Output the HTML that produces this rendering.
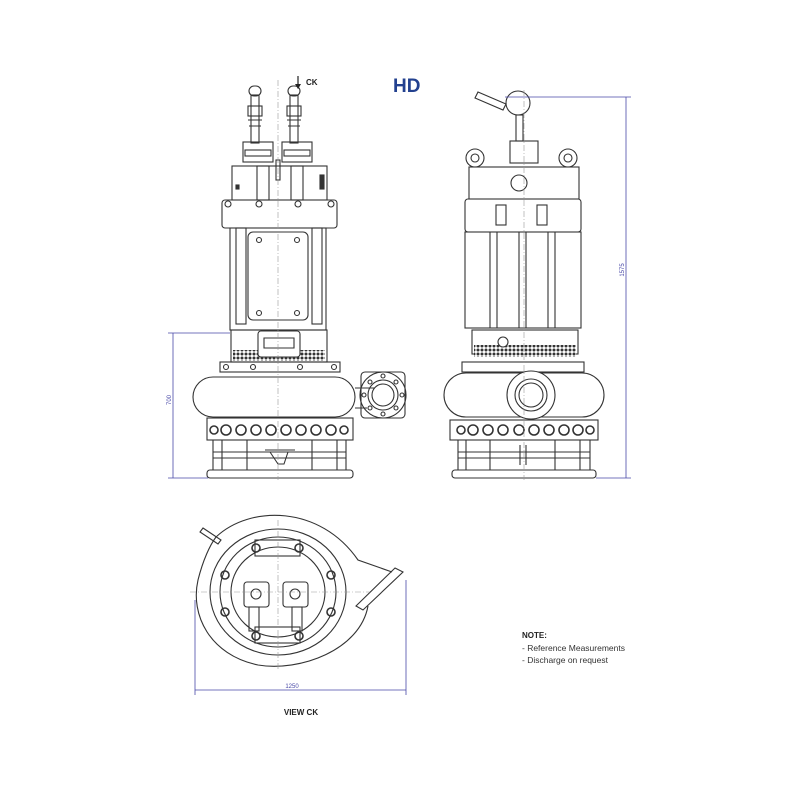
<!DOCTYPE html>
<html><head><meta charset="utf-8"><style>
html,body{margin:0;padding:0;background:#fff;}
svg{display:block;}
text{font-family:"Liberation Sans",sans-serif;}
</style></head><body>
<svg width="800" height="800" viewBox="0 0 800 800" xmlns="http://www.w3.org/2000/svg">
<defs>
<pattern id="h" width="4" height="4" patternUnits="userSpaceOnUse">
<rect width="4" height="4" fill="#fff"/>
<circle cx="2" cy="2" r="1.5" fill="#333"/>
</pattern>
</defs>
<rect width="800" height="800" fill="#fff"/>
<g fill="none" stroke="#333" stroke-width="1.1">
<!-- ========== LEFT VIEW ========== -->
<rect x="251" y="95" width="8" height="48"/>
<rect x="290" y="95" width="8" height="48"/>
<rect x="249" y="86" width="12" height="10" rx="5"/>
<rect x="288" y="86" width="12" height="10" rx="5"/>
<rect x="248" y="106" width="14" height="10"/>
<rect x="287" y="106" width="14" height="10"/>
<path d="M248 120 h14 M287 120 h14 M249 126 h12 M288 126 h12"/>
<rect x="243" y="142" width="30" height="20"/>
<rect x="282" y="142" width="30" height="20"/>
<rect x="245" y="150" width="26" height="6"/>
<rect x="284" y="150" width="26" height="6"/>
<rect x="232" y="166" width="95" height="34"/>
<rect x="257" y="166" width="12" height="34"/>
<rect x="291" y="166" width="12" height="34"/>
<rect x="276" y="160" width="4" height="20"/>
<rect x="320" y="175" width="4" height="14" fill="#333"/>
<rect x="236" y="185" width="3" height="4" fill="#333"/>
<rect x="222" y="200" width="115" height="28" rx="3"/>
<circle cx="228" cy="204" r="3"/><circle cx="259" cy="204" r="3"/><circle cx="298" cy="204" r="3"/><circle cx="331" cy="204" r="3"/>
<rect x="230" y="228" width="96" height="102"/>
<rect x="248" y="232" width="60" height="88" rx="5"/>
<rect x="236" y="228" width="10" height="96"/>
<rect x="312" y="228" width="10" height="96"/>
<circle cx="259" cy="240" r="2.5"/><circle cx="297" cy="240" r="2.5"/><circle cx="259" cy="313" r="2.5"/><circle cx="297" cy="313" r="2.5"/>
<rect x="231" y="330" width="96" height="32"/>
<rect x="233" y="350" width="92" height="11" fill="url(#h)" stroke="none"/>
<rect x="258" y="331" width="42" height="26" rx="3" fill="#fff"/>
<path d="M264 338 h30 v10 h-30z"/>
<rect x="220" y="362" width="120" height="10"/>
<circle cx="226" cy="367" r="2.5"/><circle cx="253" cy="367" r="2.5"/><circle cx="300" cy="367" r="2.5"/><circle cx="334" cy="367" r="2.5"/>
<rect x="193" y="377" width="162" height="40" rx="20"/>
<path d="M355 388 h20 M355 408 h12"/>
<circle cx="383" cy="395" r="23"/>
<circle cx="383" cy="395" r="15"/>
<circle cx="383" cy="395" r="11"/>
<rect x="361" y="372" width="44" height="46" rx="4"/>
<g fill="#fff"><circle cx="383" cy="376" r="2"/><circle cx="383" cy="414" r="2"/><circle cx="364" cy="395" r="2"/><circle cx="402" cy="395" r="2"/><circle cx="370" cy="382" r="2"/><circle cx="396" cy="382" r="2"/><circle cx="370" cy="408" r="2"/><circle cx="396" cy="408" r="2"/></g>
<rect x="207" y="418" width="146" height="22"/>
<g stroke-width="1.6">
<circle cx="226" cy="430" r="5"/><circle cx="241" cy="430" r="5"/><circle cx="256" cy="430" r="5"/><circle cx="271" cy="430" r="5"/><circle cx="286" cy="430" r="5"/><circle cx="301" cy="430" r="5"/><circle cx="316" cy="430" r="5"/><circle cx="331" cy="430" r="5"/><circle cx="344" cy="430" r="4"/><circle cx="214" cy="430" r="4"/>
</g>
<path d="M213 440 v30 M222 440 v30 M247 440 v30 M312 440 v30 M337 440 v30 M346 440 v30 M213 452 h133 M213 458 h133"/>
<path d="M265 450 h30 M270 452 l8 12 h6 l4 -12"/>
<rect x="207" y="470" width="146" height="8" rx="3"/>
<!-- ========== RIGHT VIEW ========== -->
<path d="M478 92 l28 12 l-3 6 l-28 -12z"/>
<circle cx="518" cy="103" r="12"/>
<rect x="516" y="115" width="7" height="26"/>
<rect x="510" y="141" width="28" height="22"/>
<circle cx="475" cy="158" r="9"/><circle cx="475" cy="158" r="4"/>
<circle cx="568" cy="158" r="9"/><circle cx="568" cy="158" r="4"/>
<rect x="469" y="167" width="110" height="32"/>
<circle cx="519" cy="183" r="8"/>
<rect x="465" y="199" width="116" height="33" rx="3"/>
<rect x="496" y="205" width="10" height="20"/><rect x="537" y="205" width="10" height="20"/>
<rect x="465" y="232" width="116" height="96"/>
<path d="M490 232 v96 M497 232 v96 M519 232 v96 M526 232 v96 M548 232 v96 M555 232 v96"/>
<rect x="472" y="330" width="106" height="24"/>
<rect x="474" y="345" width="102" height="12" fill="url(#h)" stroke="none"/>
<circle cx="503" cy="342" r="5" fill="#fff"/>
<rect x="462" y="362" width="122" height="10"/>
<rect x="444" y="373" width="160" height="44" rx="22"/>
<circle cx="531" cy="395" r="24" fill="#fff"/>
<circle cx="531" cy="395" r="16"/>
<circle cx="531" cy="395" r="12"/>
<rect x="450" y="420" width="148" height="20"/>
<g stroke-width="1.6">
<circle cx="461" cy="430" r="4"/><circle cx="473" cy="430" r="5"/><circle cx="488" cy="430" r="5"/><circle cx="503" cy="430" r="5"/><circle cx="519" cy="430" r="5"/><circle cx="534" cy="430" r="5"/><circle cx="549" cy="430" r="5"/><circle cx="564" cy="430" r="5"/><circle cx="578" cy="430" r="5"/><circle cx="590" cy="430" r="4"/>
</g>
<path d="M458 440 v30 M466 440 v30 M490 440 v30 M555 440 v30 M580 440 v30 M590 440 v30 M458 452 h132 M458 458 h132 M520 445 v20 M526 445 v20"/>
<rect x="452" y="470" width="144" height="8" rx="3"/>
<!-- ========== BOTTOM VIEW ========== -->
<path d="M216 537 C 250 505 320 505 358 560 L 392 572 M 368 606 C 360 650 300 672 258 665 C 210 655 190 615 198 580 C 203 560 210 545 216 537"/>
<path d="M395 568 l8 4 l-40 38 l-7 -4z"/>
<path d="M203 528 l18 12 l-3 4 l-18 -12z"/>
<ellipse cx="278" cy="592" rx="68" ry="63"/>
<ellipse cx="278" cy="592" rx="58" ry="55"/>
<ellipse cx="278" cy="592" rx="47" ry="45"/>
<rect x="244" y="582" width="25" height="25" rx="3"/>
<rect x="283" y="582" width="25" height="25" rx="3"/>
<circle cx="256" cy="594" r="5"/><circle cx="295" cy="594" r="5"/>
<rect x="249" y="607" width="10" height="24"/><rect x="292" y="607" width="10" height="24"/>
<rect x="255" y="540" width="45" height="16"/>
<rect x="255" y="627" width="45" height="16"/>
<g stroke-width="1.6"><circle cx="256" cy="548" r="4"/><circle cx="299" cy="548" r="4"/><circle cx="225" cy="575" r="4"/><circle cx="331" cy="575" r="4"/><circle cx="225" cy="612" r="4"/><circle cx="331" cy="612" r="4"/><circle cx="256" cy="636" r="4"/><circle cx="299" cy="636" r="4"/></g>
</g>
<g stroke="#999" stroke-width="0.6" stroke-dasharray="6 2 1 2">
<path d="M278 80 v400 M524 90 v390 M190 592 h180 M278 520 v150"/>
</g>
<g stroke="#4a4aa8" stroke-width="0.8" fill="none">
<path d="M173 333 v145 M168 333 h62 M168 478 h40"/>
<path d="M626 97 v381 M505 97 h126 M596 478 h35"/>
<path d="M195 690 h211 M195 600 v95 M406 580 v115"/>
</g>
<g fill="#4a4aa8" font-size="6">
<text x="0" y="0" transform="translate(171 400) rotate(-90)" text-anchor="middle">700</text>
<text x="0" y="0" transform="translate(624 270) rotate(-90)" text-anchor="middle">1575</text>
<text x="292" y="688" text-anchor="middle">1250</text>
</g>
<path d="M298 76 v10" stroke="#222" stroke-width="1.2"/>
<path d="M295 84 l3 5 l3 -5z" fill="#222"/>
<text x="306" y="85" font-size="8" font-weight="bold" fill="#222">CK</text>
<text x="393" y="92" font-size="19" font-weight="bold" fill="#23418f">HD</text>
<text x="301" y="715" font-size="8" font-weight="bold" fill="#222" text-anchor="middle">VIEW CK</text>
<text x="522" y="638" font-size="8" font-weight="bold" fill="#222">NOTE:</text>
<text x="522" y="651" font-size="8.5" fill="#333">- Reference Measurements</text>
<text x="522" y="663" font-size="8.5" fill="#333">- Discharge on request</text>
</svg>
</body></html>
